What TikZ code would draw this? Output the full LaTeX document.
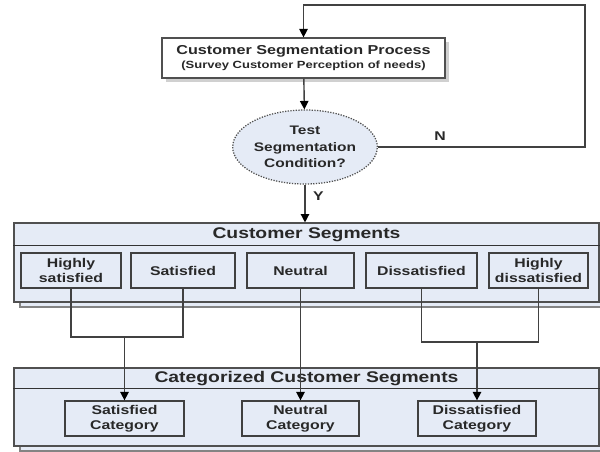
\documentclass[tikz,border=0pt]{standalone}
\usepackage{fontspec}
\setmainfont[FakeStretch=1.25]{Liberation Sans}
\usepackage{xcolor}
\definecolor{segfill}{RGB}{229,235,246}
\definecolor{segframe}{RGB}{80,80,80}
\definecolor{segline}{RGB}{65,65,65}
\definecolor{segtext}{RGB}{40,40,40}
\usetikzlibrary{arrows.meta,positioning,shapes.geometric,shadows,calc}

\begin{document}
\begin{tikzpicture}[font=\bfseries, text=segtext,
  panel/.style={draw=segframe, fill=segfill, line width=0.8pt, minimum width=14.625cm,
      minimum height=1.95cm, inner sep=0pt,
      copy shadow={shadow xshift=0.15cm, shadow yshift=-0.125cm, draw=segframe!70, fill=segfill}},
  paneltitle/.style={font=\fontsize{11}{13}\selectfont\bfseries, inner sep=0pt},
  segbox/.style={draw=segframe!80!black, line width=0.9pt, minimum height=0.875cm, inner sep=1pt,
      align=center, font=\fontsize{9}{10.5}\selectfont\bfseries},
  link/.style={draw=segline, line width=1pt},
  flow/.style={link, -{Triangle[length=6pt, width=6pt, color=black]}}]

\useasboundingbox[fill=white] (0,0) rectangle (15,-11.275);

% Segmentation process (top)
\node[draw=segframe, fill=white, line width=0.9pt, minimum width=7.075cm, minimum height=1cm,
      inner sep=0pt, align=center, font=\fontsize{9.2}{9.5}\selectfont\bfseries,
      drop shadow={shadow xshift=2.5pt, shadow yshift=-2.5pt, opacity=0.3, fill=black!60}]
      (proc) at (7.5875,-1.45) {Customer Segmentation Process\\{\fontsize{7.4}{9}\selectfont (Survey Customer Perception of needs)}};

% Condition (dotted ellipse)
\node[ellipse, draw=segframe, densely dotted, fill=segfill, line width=0.9pt,
      minimum width=3.35cm, minimum height=1.85cm, inner sep=0pt, align=center,
      font=\fontsize{8.8}{11.8}\selectfont\bfseries] (cond) at (7.625,-3.675)
      {Test\\Segmentation\\Condition?};

% Customer segments panel
\node[panel, minimum height=1.975cm] (seg) at (7.6625,-6.5625) {};
\node[paneltitle] (segtitle) at (7.6625,-5.8625) {Customer Segments};
\draw[draw=black!80, line width=0.8pt] ([yshift=-0.575cm]seg.north west) -- ([yshift=-0.575cm]seg.north east);

\node[segbox, minimum width=2.5cm]   (hs)  at (1.775,-6.7625)   {Highly\\satisfied};
\node[segbox, minimum width=2.6cm]   (sat) at (4.575,-6.7625)   {Satisfied};
\node[segbox, minimum width=2.675cm] (neu) at (7.5125,-6.7625)  {Neutral};
\node[segbox, minimum width=2.775cm] (dis) at (10.5375,-6.7625) {Dissatisfied};
\node[segbox, minimum width=2.475cm] (hd)  at (13.4625,-6.7625) {Highly\\dissatisfied};

% Categorized segments panel
\node[panel] (cat) at (7.6625,-10.175) {};
\node[paneltitle] (cattitle) at (7.6625,-9.4625) {Categorized Customer Segments};
\draw[draw=black!80, line width=0.8pt] ([yshift=-0.525cm]cat.north west) -- ([yshift=-0.525cm]cat.north east);

\node[segbox, minimum width=2.975cm] (satcat) at (3.1125,-10.4625) {Satisfied\\Category};
\node[segbox, minimum width=2.925cm] (neucat) at (7.5125,-10.4625) {Neutral\\Category};
\node[segbox, minimum width=2.95cm]  (discat) at (11.925,-10.4625) {Dissatisfied\\Category};

% Flow and loop back
\coordinate (loopcorner) at (14.625,-0.125);
\coordinate (leftjoin) at (0,-8.425);
\coordinate (rightjoin) at (0,-8.55);

\draw[flow] (proc) -- (cond);
\draw[flow] (cond.east) -| node[pos=0.15, above=1pt, font=\fontsize{9}{10}\selectfont\bfseries] {N}
      (loopcorner) -| (proc.north);
\draw[flow] (cond.south) -- node[pos=0.3, right=2pt, font=\fontsize{9}{10}\selectfont\bfseries] {Y}
      (cond.south |- seg.north);

% Grouping into categories
\draw[link] (hs.south) |- (sat.south |- leftjoin) -- (sat.south);
\draw[flow] (satcat.north |- leftjoin) -- (satcat.north);
\draw[flow] (neu.south) -- (neucat.north);
\draw[link] (dis.south) |- (hd.south |- rightjoin) -- (hd.south);
\draw[flow] (discat.north |- rightjoin) -- (discat.north);

\end{tikzpicture}
\end{document}
